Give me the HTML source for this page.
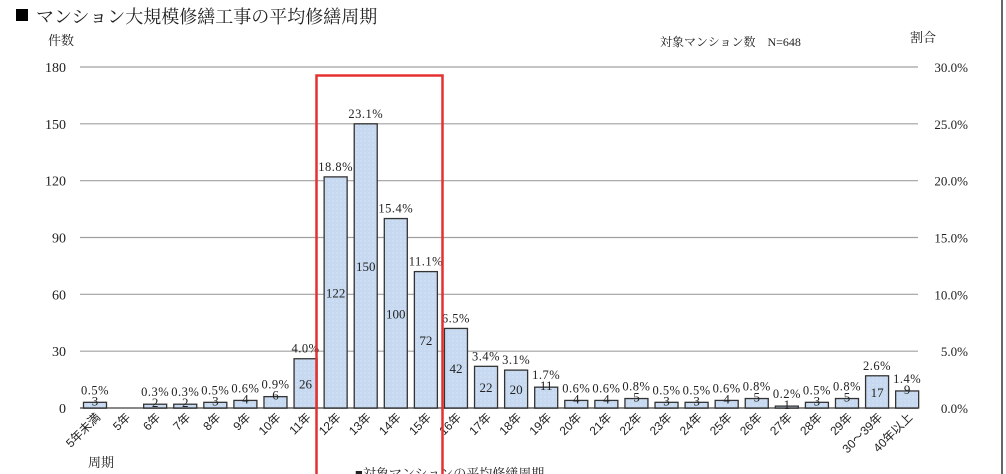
<!DOCTYPE html>
<html><head><meta charset="utf-8"><style>
body{margin:0;background:#fff;}
svg{display:block;font-family:"Liberation Serif","Noto Serif CJK SC",serif;}
</style></head><body>
<svg id="s" width="1006" height="474" xmlns="http://www.w3.org/2000/svg">
<defs><pattern id="p" width="4" height="4" patternUnits="userSpaceOnUse"><rect width="4" height="4" fill="#c6d9f0"/><circle cx="1" cy="1" r="0.5" fill="#eef4fb"/></pattern></defs>
<rect x="16" y="9" width="12" height="12" fill="#000"/>
<text x="36" y="23" font-size="18" fill="#222">マンション大規模修繕工事の平均修繕周期</text>
<text x="48" y="45" font-size="13" fill="#222">件数</text>
<text x="660" y="46" font-size="12" fill="#222">対象マンション数　N=648</text>
<text x="910" y="42" font-size="13" fill="#222">割合</text>
<text x="88" y="467" font-size="13" fill="#222">周期</text>
<text x="355" y="478" font-size="13" fill="#222">■対象マンションの平均修繕周期</text>
<line x1="1002" y1="0" x2="1002" y2="474" stroke="#333" stroke-width="1.5"/>
<g id="g"></g>
<rect x="316.5" y="75.5" width="126" height="402" fill="none" stroke="#e53030" stroke-width="2.5"/>
</svg>
<script>
(function(){
var g=document.getElementById('g'),h='';
var base=408,tp=67,sc=(base-tp)/180;
for(var v=0;v<=180;v+=30){var y=base-v*sc;
h+='<line x1="80" y1="'+y+'" x2="918" y2="'+y+'" stroke="'+(v?'#a0a0a0':'#888')+'" stroke-width="'+(v?1.2:2)+'"/>';
h+='<text x="66" y="'+(y+5)+'" font-size="14" text-anchor="end" fill="#222">'+v+'</text>';
h+='<text x="968" y="'+(y+5)+'" font-size="13" text-anchor="end" fill="#222">'+(v/6).toFixed(1)+'%</text>';}
var c=[3,0,2,2,3,4,6,26,122,150,100,72,42,22,20,11,4,4,5,3,3,4,5,1,3,5,17,9];
var p=["0.5%","","0.3%","0.3%","0.5%","0.6%","0.9%","4.0%","18.8%","23.1%","15.4%","11.1%","6.5%","3.4%","3.1%","1.7%","0.6%","0.6%","0.8%","0.5%","0.5%","0.6%","0.8%","0.2%","0.5%","0.8%","2.6%","1.4%"];
var L=["5年未満","5年","6年","7年","8年","9年","10年","11年","12年","13年","14年","15年","16年","17年","18年","19年","20年","21年","22年","23年","24年","25年","26年","27年","28年","29年","30～39年","40年以上"];
for(var i=0;i<28;i++){var x=95+i*30.08,hh=c[i]*sc,y=base-hh;
if(c[i])h+='<rect x="'+(x-11.5)+'" y="'+y+'" width="23" height="'+hh+'" fill="url(#p)" stroke="#333" stroke-width="1.3"/>';
if(c[i]){var ly=c[i]>=17?y+hh/2+5:y+3;
h+='<text x="'+x+'" y="'+ly+'" font-size="13" text-anchor="middle" fill="#222">'+c[i]+'</text>';
h+='<text x="'+x+'" y="'+(c[i]>=17?y-6:y-8)+'" font-size="12.5" text-anchor="middle" fill="#222" letter-spacing="0.5">'+p[i]+'</text>';}
h+='<text transform="translate('+(x+6)+',418) rotate(-45)" font-size="12" text-anchor="end" fill="#222" font-family="Liberation Sans,Noto Sans CJK JP,sans-serif">'+L[i]+'</text>';}
g.innerHTML=h;
})();
</script>
</body></html>
